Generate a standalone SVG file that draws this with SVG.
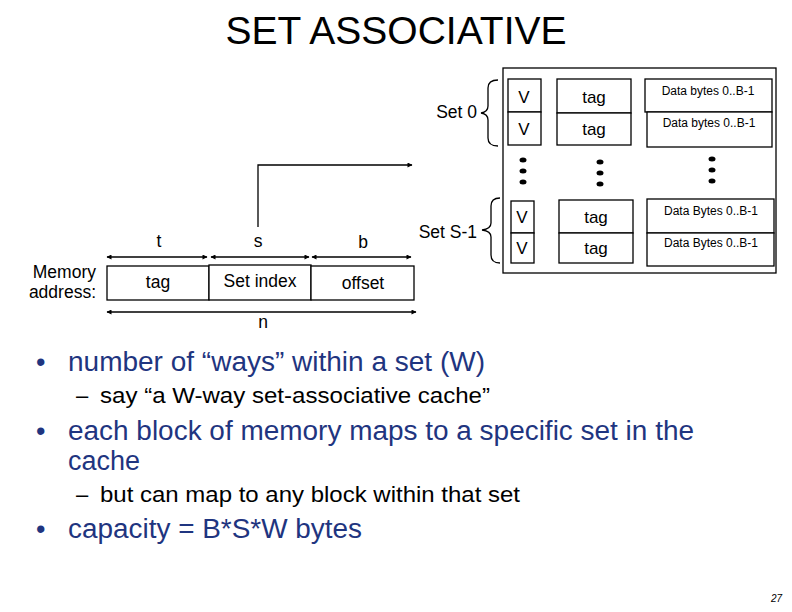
<svg xmlns="http://www.w3.org/2000/svg" width="792" height="612" viewBox="0 0 792 612">
<style>
.t{font-family:"Liberation Sans",Arial,sans-serif;fill:#000}
.c{text-anchor:middle}
.r{text-anchor:end}
.box{fill:#fff;stroke:#000;stroke-width:1.3}
.ln{fill:none;stroke:#000;stroke-width:1.3}
.blue{fill:#1f3580}
</style>
<defs>
<marker id="ah" viewBox="0 0 10 10" refX="9" refY="5" markerWidth="7" markerHeight="5" orient="auto-start-reverse" markerUnits="userSpaceOnUse">
<path d="M0,0 L10,5 L0,10 z" fill="#000"/>
</marker>
</defs>
<rect width="792" height="612" fill="#fff"/>
<text class="t c" x="396" y="44" font-size="39">SET ASSOCIATIVE</text>

<g id="cache">
<rect class="box" x="503" y="68" width="273" height="205"/>
<g id="set0">
<rect class="box" x="508" y="79" width="33" height="33"/>
<rect class="box" x="508" y="112" width="33" height="33"/>
<rect class="box" x="557" y="79" width="74" height="34"/>
<rect class="box" x="557" y="113" width="74" height="32"/>
<rect class="box" x="645" y="79" width="127" height="33"/>
<rect class="box" x="647" y="112" width="125" height="35"/>
<text class="t c" x="524" y="103" font-size="17">V</text>
<text class="t c" x="524" y="135" font-size="17">V</text>
<text class="t c" x="594" y="103" font-size="17">tag</text>
<text class="t c" x="594" y="135" font-size="17">tag</text>
<text class="t c" x="708" y="95" font-size="12">Data bytes 0..B-1</text>
<text class="t c" x="709" y="127" font-size="12">Data bytes 0..B-1</text>
</g>
<g id="dots">
<ellipse cx="523" cy="160" rx="3.5" ry="2.5"/>
<ellipse cx="523" cy="171" rx="3.5" ry="2.5"/>
<ellipse cx="523" cy="182" rx="3.5" ry="2.5"/>
<ellipse cx="600" cy="162" rx="3.5" ry="2.5"/>
<ellipse cx="600" cy="173" rx="3.5" ry="2.5"/>
<ellipse cx="600" cy="184" rx="3.5" ry="2.5"/>
<ellipse cx="712" cy="159" rx="3.5" ry="2.5"/>
<ellipse cx="712" cy="170" rx="3.5" ry="2.5"/>
<ellipse cx="712" cy="181" rx="3.5" ry="2.5"/>
</g>
<g id="setS1">
<rect class="box" x="511" y="201" width="23" height="32"/>
<rect class="box" x="511" y="233" width="23" height="30"/>
<rect class="box" x="559" y="200" width="74" height="33"/>
<rect class="box" x="559" y="233" width="74" height="30"/>
<rect class="box" x="647" y="199" width="127" height="34"/>
<rect class="box" x="647" y="233" width="127" height="33"/>
<text class="t c" x="522" y="223" font-size="17">V</text>
<text class="t c" x="522" y="254" font-size="17">V</text>
<text class="t c" x="596" y="223" font-size="17">tag</text>
<text class="t c" x="596" y="254" font-size="17">tag</text>
<text class="t c" x="711" y="215" font-size="12">Data Bytes 0..B-1</text>
<text class="t c" x="711" y="247" font-size="12">Data Bytes 0..B-1</text>
</g>
</g>

<g id="set0label">
<text class="t r" x="477" y="118" font-size="17.5">Set 0</text>
<path class="ln" d="M498,80 Q488,80 488,88 L488,106 Q488,112 481,113 Q488,114 488,120 L488,138 Q488,146 498,146" stroke-width="1"/>
</g>
<g id="setS1label">
<text class="t r" x="477" y="238" font-size="17.5">Set S-1</text>
<path class="ln" d="M500,198 Q491,198 491,206 L491,223 Q491,229 482,230 Q491,231 491,237 L491,255 Q491,263 500,263" stroke-width="1"/>
</g>

<g id="address">
<text class="t r" x="96" y="278" font-size="17.5">Memory</text>
<text class="t r" x="96" y="298" font-size="17.5">address:</text>
<rect class="box" x="107" y="266" width="102" height="34"/>
<rect class="box" x="209" y="265" width="102" height="35"/>
<rect class="box" x="311" y="266" width="103" height="34"/>
<text class="t c" x="158" y="288" font-size="17.5">tag</text>
<text class="t c" x="260" y="287" font-size="17.5">Set index</text>
<text class="t c" x="363" y="289" font-size="17.5">offset</text>
<text class="t c" x="159" y="247" font-size="17.5">t</text>
<text class="t c" x="258" y="247" font-size="17.5">s</text>
<text class="t c" x="363" y="248" font-size="17.5">b</text>
<text class="t c" x="263" y="328" font-size="17.5">n</text>
</g>

<g id="connectors">
<line class="ln" x1="107" y1="257" x2="207" y2="257" marker-start="url(#ah)" marker-end="url(#ah)"/>
<line class="ln" x1="211" y1="257" x2="309" y2="257" marker-start="url(#ah)" marker-end="url(#ah)"/>
<line class="ln" x1="312" y1="257" x2="411" y2="257" marker-start="url(#ah)" marker-end="url(#ah)"/>
<line class="ln" x1="107" y1="312" x2="416" y2="312" marker-start="url(#ah)" marker-end="url(#ah)"/>
<path class="ln" d="M258,227 L258,165 L412,165" marker-end="url(#ah)"/>
</g>

<g id="bullets">
<text class="t blue" x="36" y="371" font-size="27">•</text>
<text class="t blue" x="68" y="371" font-size="27" textLength="417" lengthAdjust="spacingAndGlyphs">number of “ways” within a set (W)</text>
<text class="t" x="76" y="403" font-size="22">–</text>
<text class="t" x="100" y="403" font-size="22" textLength="390" lengthAdjust="spacingAndGlyphs">say “a W-way set-associative cache”</text>
<text class="t blue" x="36" y="440" font-size="27">•</text>
<text class="t blue" x="68" y="440" font-size="27" textLength="626" lengthAdjust="spacingAndGlyphs">each block of memory maps to a specific set in the</text>
<text class="t blue" x="68" y="470" font-size="27">cache</text>
<text class="t" x="76" y="502" font-size="22">–</text>
<text class="t" x="100" y="502" font-size="22" textLength="420" lengthAdjust="spacingAndGlyphs">but can map to any block within that set</text>
<text class="t blue" x="36" y="538" font-size="27">•</text>
<text class="t blue" x="68" y="538" font-size="27" textLength="294" lengthAdjust="spacingAndGlyphs">capacity = B*S*W bytes</text>
</g>
<text class="t" x="771" y="602" font-size="10" font-style="italic">27</text>
</svg>
